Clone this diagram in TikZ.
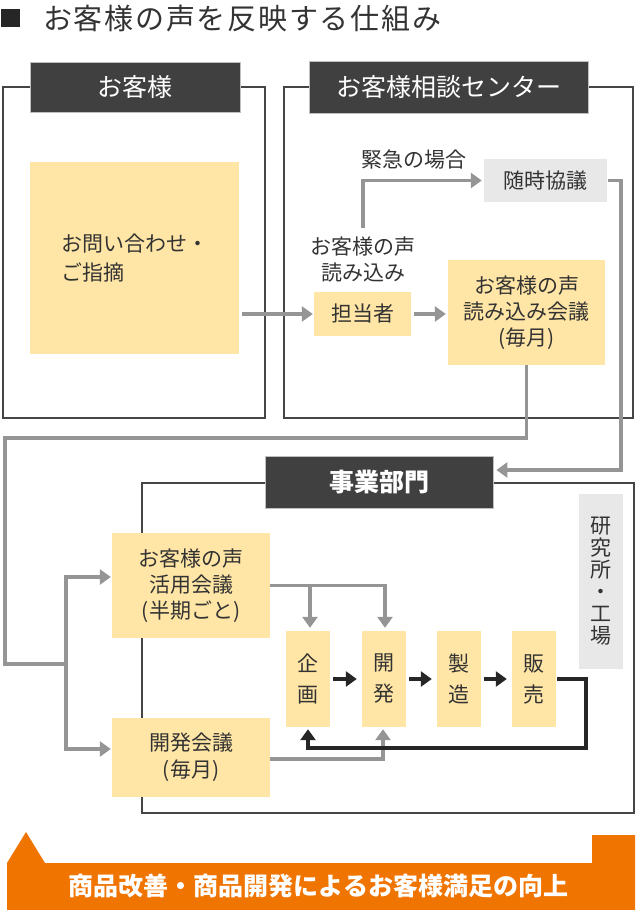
\documentclass[tikz,border=0pt]{standalone}
\usepackage{fontspec}
\setmainfont{Noto Sans CJK JP}
\newfontfamily\titlefont[LetterSpace=6]{Noto Sans CJK JP}
\usetikzlibrary{arrows.meta,calc}
\definecolor{hdr}{HTML}{404040}
\definecolor{frm}{HTML}{454545}
\definecolor{yel}{HTML}{FFE6A6}
\definecolor{gry}{HTML}{E8E8E8}
\definecolor{arr}{HTML}{959595}
\definecolor{blk}{HTML}{262626}
\definecolor{org}{HTML}{F07400}
\definecolor{txt}{HTML}{333333}
\newcommand\bodyf{\fontsize{21}{26}\selectfont}
\newcommand\hdrf{\fontsize{25}{28}\selectfont}
\newcommand\jigyof{\fontsize{25}{28}\selectfont\bfseries}
\newcommand\titlef{\titlefont\fontsize{29}{32}\selectfont}
\newcommand\bannerf{\fontsize{25}{28}\selectfont\bfseries}
\begin{document}
\begin{tikzpicture}[x=1pt,y=-1pt,
  frame/.style={draw=frm,line width=2.5pt,inner sep=0pt,outer sep=0pt},
  hdrbox/.style={fill=hdr,draw=black!25,line width=0.8pt,text=white,inner sep=0pt,font=\hdrf},
  ybox/.style={fill=yel,inner sep=0pt,text=txt,align=center,font=\bodyf},
  gbox/.style={fill=gry,inner sep=0pt,text=txt,align=center,font=\bodyf},
  lbl/.style={inner sep=0pt,text=txt,align=center,font=\bodyf},
  gline/.style={draw=arr,line width=3.5pt},
  garrow/.style={gline,-{Triangle[length=11pt,width=15pt]}},
  barrow/.style={draw=blk,line width=3.5pt,-{Triangle[length=11pt,width=15pt]}},
  procbox/.style={ybox,minimum width=44pt,minimum height=96pt,font=\fontsize{21}{31}\selectfont}
]
\useasboundingbox (0,0) rectangle (640,910);
% title
\fill[black!85] (1,9) rectangle (20,27);
\node[anchor=west,inner sep=0pt,font=\titlef,text=txt] (title) at (43,19) {お客様の声を反映する仕組み};
% frames
\node[frame,minimum width=262pt,minimum height=331pt] (fl) at (134,252.5) {};
\node[frame,minimum width=349pt,minimum height=331pt] (fc) at (458.5,252.5) {};
\node[frame,minimum width=492pt,minimum height=330pt] (fj) at (388,648) {};
\node[hdrbox,minimum width=210pt,minimum height=50pt] (hl) at (135,87) {お客様};
\node[hdrbox,minimum width=279pt,minimum height=52pt] (hc) at (448.5,87) {お客様相談センター};
\node[hdrbox,minimum width=228pt,minimum height=52pt,font=\jigyof] (jigyo) at (379,482) {事業部門};
% boxes
\node[ybox,minimum width=209pt,minimum height=192pt,align=left,font=\fontsize{21}{29}\selectfont] (inq) at (134.5,258) {お問い合わせ・\\ご指摘};
\node[gbox,minimum width=123pt,minimum height=43pt] (zuiji) at (545.5,180.5) {随時協議};
\node[ybox,minimum width=97pt,minimum height=44pt] (tanto) at (362.5,314) {担当者};
\node[ybox,minimum width=157pt,minimum height=105pt] (yomi) at (526.5,312.5) {お客様の声\\読み込み会議\\(毎月)};
\node[lbl] (lblyomi) at (363,260) {お客様の声\\読み込み};
\node[lbl] (kinkyu) at (414,160) {緊急の場合};
\node[ybox,minimum width=158pt,minimum height=105pt] (katsuyo) at (191,585.5) {お客様の声\\活用会議\\(半期ごと)};
\node[ybox,minimum width=158pt,minimum height=79pt,font=\fontsize{21}{27}\selectfont] (kaigi2) at (191,757.5) {開発会議\\(毎月)};
\node[gbox,minimum width=44pt,minimum height=175pt,font=\fontsize{21}{22}\selectfont] (kenkyu) at (601,581.5) {研\\究\\所\\・\\工\\場};
\node[procbox] (kikaku) at (308,679) {企\\画};
\node[procbox] (kai) at (384,679) {開\\発};
\node[procbox] (seizo) at (459,679) {製\\造};
\node[procbox] (hanbai) at (534,679) {販\\売};
% connectors
\draw[garrow] ($(inq.east |- tanto.west)+(3,0)$) -- ($(tanto.west)+(-1,0)$);
\draw[garrow] ($(tanto.east)+(3,0)$) -- ($(tanto.east -| yomi.west)+(-2,0)$);
\draw[garrow] ($(lblyomi.north)+(0,-9)$) |- ($(zuiji.west)+(-2,0)$);
\coordinate (r1) at (621,470);
\draw[garrow] ($(zuiji.east)+(1,0)$) -| (r1) -- ($(r1 -| jigyo.east)+(3,0)$);
\coordinate (c1) at (5,438);
\coordinate (j) at (66,664);
\draw[gline] (yomi.south) |- (c1) |- (j);
\draw[garrow] (j) |- ($(katsuyo.west)+(-1,-8.5)$);
\draw[garrow] (j) |- ($(kaigi2.west)+(-1,-8.5)$);
\draw[garrow] (katsuyo.east) -| ($(kai.north)+(1,-3)$);
\draw[garrow] ($(katsuyo.east -| kikaku.north)+(2,0)$) -- ($(kikaku.north)+(2,-3)$);
\draw[garrow] ($(kaigi2.east)+(0,1.5)$) -| ($(kai.south)+(-1,2)$);
\draw[barrow] ($(kikaku.east)+(3,0)$) -- ($(kai.west)+(-5,0)$);
\draw[barrow] ($(kai.east)+(3,0)$) -- ($(seizo.west)+(-5,0)$);
\draw[barrow] ($(seizo.east)+(3,0)$) -- ($(hanbai.west)+(-5,0)$);
\coordinate (fb) at (586,748);
\draw[barrow] ($(hanbai.east)+(1,0)$) -| (fb) -| ($(kikaku.south)+(0,2)$);
% banner
\fill[org] (7,910) -- (7,863) -- (26,832) -- (45,863) -- (592,863) -- (592,835) -- (635,835) -- (635,910) -- cycle;
\node[font=\bannerf,text=white,inner sep=0pt] (banner) at (318.5,886) {商品改善・商品開発によるお客様満足の向上};
\end{tikzpicture}
\end{document}
